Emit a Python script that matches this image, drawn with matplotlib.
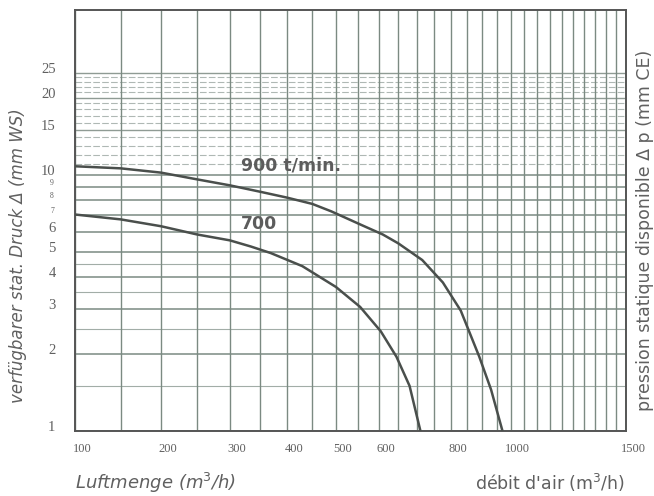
import numpy as np
import matplotlib
matplotlib.use('Agg')
import matplotlib.pyplot as plt
import matplotlib.transforms as mtrans

# fan curves: air volume (m3/h) vs static pressure (mm WS)
q_900 = [100, 150, 200, 250, 300, 350, 400, 450, 490, 560, 610, 650, 715, 775, 830, 890, 930, 970]
p_900 = [10.8, 10.6, 10.2, 9.6, 9.1, 8.6, 8.15, 7.7, 7.2, 6.35, 5.85, 5.4, 4.65, 3.8, 2.95, 1.95, 1.45, 1.0]

q_700 = [100, 150, 200, 250, 300, 335, 370, 430, 500, 555, 605, 645, 680, 710]
p_700 = [7.0, 6.7, 6.3, 5.85, 5.55, 5.25, 4.95, 4.4, 3.65, 3.05, 2.45, 1.95, 1.5, 1.0]

x_ticks = [100, 200, 300, 400, 500, 600, 800, 1000, 1500]
x_labels = ['100', '200', '300', '400', '500', '600', '800', '1000', '1500']
y_ticks = [1, 2, 3, 4, 5, 6, 10, 15, 20, 25]
y_small = [7, 8, 9]

grid_c = '#7b8a82'
text_c = '#606060'
curve_c = '#4a4f4c'

fig = plt.figure(figsize=(6.54, 4.96), dpi=100)
ax = fig.add_axes([75/654, 65/496, 551/654, 421/496])

# chart's x axis is roughly log(Q + 250)
fwd = lambda q: np.log10(np.asarray(q, dtype=float) + 250)
inv = lambda v: 10 ** np.asarray(v, dtype=float) - 250
ax.set_xscale('function', functions=(fwd, inv))
ax.set_yscale('log')
ax.set_xlim(100, 1500)
ax.set_ylim(1, 44)

# grid
for q in np.arange(100, 1501, 50):
    ax.axvline(q, color=grid_c, lw=1.0, zorder=1)
for p in np.arange(1, 11, 1):
    ax.axhline(p, color=grid_c, lw=1.1, zorder=1)
for p in np.arange(1.5, 5, 1.0):
    ax.axhline(p, color=grid_c, lw=0.8, alpha=0.7, zorder=1)
for p in np.arange(11, 26, 1):
    if p in (15, 20, 25):
        ax.axhline(p, color=grid_c, lw=1.0, alpha=0.85, zorder=1)
    else:
        ax.axhline(p, color=grid_c, lw=0.8, ls=(0, (6, 2)), alpha=0.6, zorder=1)

ax.plot(q_900, p_900, color=curve_c, lw=1.8, zorder=3, solid_joinstyle='round')
ax.plot(q_700, p_700, color=curve_c, lw=1.8, zorder=3, solid_joinstyle='round')

ax.text(318, 10.9, '900 t/min.', fontsize=12.5, fontweight='bold', color='#5c5c5c',
        va='center', ha='left', zorder=4)
ax.text(318, 6.4, '700', fontsize=12.5, fontweight='bold', color='#5c5c5c',
        va='center', ha='left', zorder=4)

for s in ax.spines.values():
    s.set_color('#555555')
    s.set_linewidth(1.4)

ax.xaxis.set_major_locator(plt.FixedLocator(x_ticks))
ax.xaxis.set_minor_locator(plt.NullLocator())
ax.set_xticklabels(x_labels, family='Liberation Serif', fontsize=9, color=text_c)
ax.yaxis.set_major_locator(plt.FixedLocator(y_ticks))
ax.yaxis.set_minor_locator(plt.NullLocator())
ax.set_yticklabels([str(v) for v in y_ticks], family='Liberation Serif', fontsize=10.5, color=text_c)
ax.tick_params(axis='x', length=0, pad=9)
ax.tick_params(axis='y', length=0, pad=14)

off_x = mtrans.ScaledTranslation(5/72, 0, fig.dpi_scale_trans)
for lab in ax.get_xticklabels():
    lab.set_transform(lab.get_transform() + off_x)
off_y = mtrans.ScaledTranslation(0, 3.5/72, fig.dpi_scale_trans)
for lab in ax.get_yticklabels():
    lab.set_transform(lab.get_transform() + off_y)

# squeezed 7 8 9 labels
tr = mtrans.blended_transform_factory(fig.transFigure, ax.transData)
for v in y_small:
    ax.text(52/654, v, str(v), transform=tr, fontsize=5.5, family='Liberation Serif',
            color=text_c, ha='center', va='bottom')

fig.text(18/654, 0.484, 'verfügbarer stat. Druck Δ (mm WS)', rotation=90, style='italic',
         fontsize=12, color=text_c, ha='center', va='center')
fig.text(645/654, 0.535, 'pression statique disponible Δ p (mm CE)', rotation=90,
         fontsize=12.5, color=text_c, ha='center', va='center')
fig.text(75/654, 13/496, 'Luftmenge (m$^3$/h)', style='italic', fontsize=13,
         color=text_c, ha='left', va='center')
fig.text(625/654, 13/496, "débit d'air (m$^3$/h)", fontsize=12.5,
         color=text_c, ha='right', va='center')

fig.savefig('out.png', dpi=100, facecolor='white')
